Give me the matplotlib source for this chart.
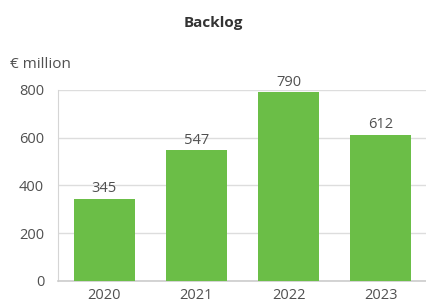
import matplotlib
matplotlib.use("Agg")
import matplotlib.pyplot as plt

years = ["2020", "2021", "2022", "2023"]
backlog = [345, 547, 790, 612]
yticks = [0, 200, 400, 600, 800]

plt.rcParams['font.family'] = ['Open Sans', 'DejaVu Sans']

fig = plt.figure(figsize=(4.27, 3.05), dpi=100)
ax = fig.add_axes([0.136, 0.079, 0.864, 0.626])

green = "#6BBE47"
txt = "#505050"
x = list(range(len(years)))
ax.bar(x, backlog, width=0.66, color=green, zorder=3)
for xi, v in zip(x, backlog):
    ax.annotate(str(v), (xi, v), xytext=(0, 2), textcoords="offset points",
                ha="center", va="bottom", fontsize=10.5, color=txt)

ax.set_xlim(-0.5, 3.5)
ax.set_ylim(0, 800)
ax.set_yticks(yticks)
ax.set_yticklabels([str(t) for t in yticks])
ax.set_xticks(x)
ax.set_xticklabels(years)
ax.tick_params(axis="both", length=0, labelsize=10.5, labelcolor=txt)
ax.tick_params(axis="y", pad=10)
ax.tick_params(axis="x", pad=5)
ax.grid(axis="y", color="#dddddd", linewidth=1, zorder=0)
for s in ["top", "right"]:
    ax.spines[s].set_visible(False)
ax.spines["left"].set_color("#d5d5d5")
ax.spines["bottom"].set_color("#cccccc")
ax.spines["bottom"].set_linewidth(1.2)

fig.text(0.5, 0.925, "Backlog", ha="center", va="center", fontsize=11,
         fontweight="bold", color="#333333")
fig.text(0.023, 0.787, "€ million", ha="left", va="center", fontsize=11,
         color=txt)

fig.savefig("out.png", dpi=100)
